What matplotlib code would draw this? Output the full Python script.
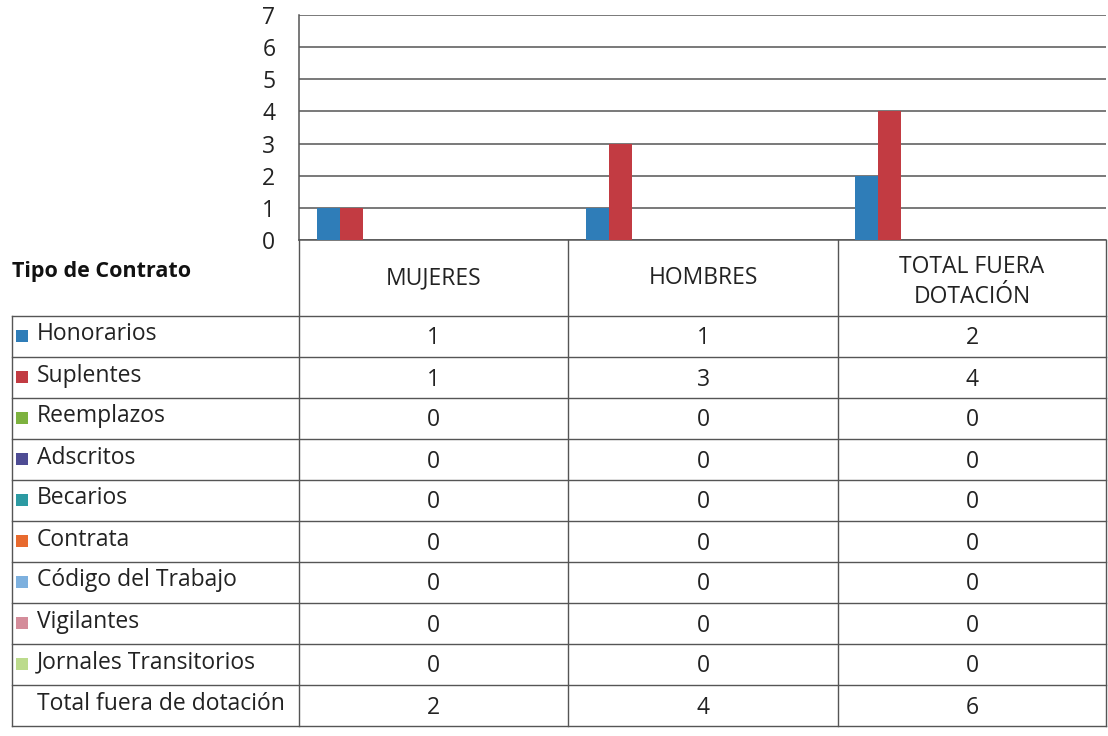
import matplotlib
matplotlib.use("Agg")
import matplotlib.pyplot as plt
from matplotlib.patches import Rectangle

# ---- data ----
categories = ["MUJERES", "HOMBRES", "TOTAL FUERA\nDOTACIÓN"]
series_names = ["Honorarios", "Suplentes", "Reemplazos", "Adscritos", "Becarios",
                "Contrata", "Código del Trabajo", "Vigilantes", "Jornales Transitorios"]
honorarios = [1, 1, 2]
suplentes = [1, 3, 4]
reemplazos = [0, 0, 0]
adscritos = [0, 0, 0]
becarios = [0, 0, 0]
contrata = [0, 0, 0]
codigo_trabajo = [0, 0, 0]
vigilantes = [0, 0, 0]
jornales = [0, 0, 0]
total_label = "Total fuera de dotación"
totals = [2, 4, 6]
yticks = [0, 1, 2, 3, 4, 5, 6, 7]

series_values = [honorarios, suplentes, reemplazos, adscritos, becarios,
                 contrata, codigo_trabajo, vigilantes, jornales]
colors = ["#2F7DB8", "#C23B42", "#7DB23F", "#4E4C94", "#2C9AA2",
          "#E86A2E", "#7DB0DE", "#D48C9A", "#BCDB8C"]

plt.rcParams['font.family'] = ['Open Sans', 'DejaVu Sans']
W, H = 1108, 736
fig = plt.figure(figsize=(W / 100, H / 100), dpi=100)
fig.patch.set_facecolor("white")

FS = 16.5

# chart area (pixel geometry)
x_left, x_right, y_top, y_bot = 299, 1106, 15, 240
ax = fig.add_axes([x_left / W, 1 - y_bot / H, (x_right - x_left) / W, (y_bot - y_top) / H])
ax.set_xlim(-0.5, len(categories) - 0.5)
ax.set_ylim(0, 7)
bw = 23 / 268
start = 18 / 268
for j, (vals, c) in enumerate(zip(series_values, colors)):
    xs = [i - 0.5 + start + j * bw for i in range(len(categories))]
    ax.bar(xs, vals, width=bw, align='edge', color=c, zorder=3, linewidth=0)
ax.set_yticks(yticks)
ax.set_yticklabels([str(t) for t in yticks], fontsize=16.5, color="#222222")
ax.tick_params(axis='y', length=0, pad=17)
ax.set_xticks([])
ax.yaxis.grid(True, color="#555555", linewidth=1.1, zorder=1)
for s in ["top", "right"]:
    ax.spines[s].set_visible(False)
ax.spines["left"].set_color("#555555")
ax.spines["left"].set_linewidth(1.1)
ax.spines["bottom"].set_color("#555555")
ax.spines["bottom"].set_linewidth(1.1)

# data table overlay in pixel coords
ov = fig.add_axes([0, 0, 1, 1])
ov.set_xlim(0, W)
ov.set_ylim(H, 0)
ov.axis('off')
ov.patch.set_visible(False)

lc, lw = "#555555", 1.0
col_x = [x_left, 568, 838, x_right]
row_top = 316
row_h = 41
n_rows = len(series_names) + 1
table_bot = row_top + row_h * n_rows

# horizontal lines
for k in range(n_rows + 1):
    y = row_top + k * row_h
    ov.plot([12, x_right], [y, y], color=lc, lw=lw)
# vertical lines
ov.plot([12, 12], [row_top, table_bot], color=lc, lw=lw)
for x in col_x:
    ov.plot([x, x], [y_bot, table_bot], color=lc, lw=lw)

# header
ov.text(12, 271, "Tipo de Contrato", fontsize=15.5, fontweight='bold',
        ha='left', va='center', color="#111111")
for i, cat in enumerate(categories):
    cx = (col_x[i] + col_x[i + 1]) / 2
    cy = 278 if "\n" not in cat else 282
    ov.text(cx, cy, cat, fontsize=FS, ha='center', va='center',
            color="#222222", linespacing=1.35)

# body rows
row_labels = series_names + [total_label]
row_vals = series_values + [totals]
for k, (lab, vals) in enumerate(zip(row_labels, row_vals)):
    cy = row_top + k * row_h + row_h / 2
    if k < len(series_names):
        ov.add_patch(Rectangle((16, cy - 7), 12, 12, color=colors[k], lw=0))
    ov.text(37, cy - 2, lab, fontsize=FS, ha='left', va='center', color="#222222")
    for i, v in enumerate(vals):
        cx = (col_x[i] + col_x[i + 1]) / 2
        ov.text(cx, cy + 2, str(v), fontsize=FS, ha='center', va='center', color="#222222")

fig.savefig("out.png", dpi=100, facecolor="white")
